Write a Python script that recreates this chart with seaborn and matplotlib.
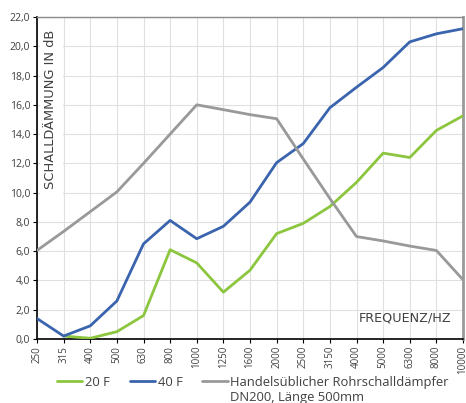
import numpy as np
import pandas as pd
import matplotlib
matplotlib.use("Agg")
import matplotlib.pyplot as plt
from matplotlib.lines import Line2D
from matplotlib.patches import Rectangle
import seaborn as sns

freqs = ["250", "315", "400", "500", "630", "800", "1000", "1250", "1600",
         "2000", "2500", "3150", "4000", "5000", "6300", "8000", "10000"]
f20 = [np.nan, 0.2, 0.05, 0.5, 1.6, 6.1, 5.2, 3.2, 4.7, 7.2, 7.9, 9.05,
       10.7, 12.7, 12.4, 14.25, 15.25]
f40 = [1.4, 0.2, 0.9, 2.6, 6.5, 8.1, 6.85, 7.7, 9.35, 12.05, 13.35, 15.8,
       17.2, 18.55, 20.3, 20.85, 21.2]
handel = [6.05, 7.35, 8.7, 10.05, 12.0, 14.0, 16.0, 15.67, 15.33, 15.05,
          12.3, 9.6, 7.0, 6.7, 6.35, 6.05, 4.05]
series_names = ["20 F", "40 F", "Handelsüblicher Rohrschalldämpfer"]
extra_line = "DN200, Länge 500mm"
colors = ["#8cc63e", "#3a64ad", "#999999"]

sns.set_style("white")
plt.rcParams['font.family'] = ['Open Sans', 'DejaVu Sans']

df = pd.DataFrame({
    "pos": list(range(len(freqs))) * 3,
    "val": f20 + f40 + handel,
    "series": [series_names[0]] * len(freqs) + [series_names[1]] * len(freqs) + [series_names[2]] * len(freqs),
})

fig = plt.figure(figsize=(4.66, 4.03), dpi=100)
ax = fig.add_axes([37 / 466, 1 - 339 / 403, (463 - 37) / 466, (339 - 17) / 403])

sns.lineplot(data=df, x="pos", y="val", hue="series", palette=colors,
             hue_order=series_names, linewidth=2.0, ax=ax, legend=False, sort=False)
for ln in ax.get_lines():
    ln.set_zorder(3)

ax.set_xlim(0, len(freqs) - 1)
ax.set_ylim(0, 22)
ax.set_xticks(range(len(freqs)))
ax.set_xticklabels(freqs, rotation=90, fontsize=7, color="#404040")
yt = np.arange(0, 22.1, 2)
ax.set_yticks(yt)
ax.set_yticklabels([f"{v:.1f}".replace(".", ",") for v in yt], fontsize=7.5, color="#404040")
ax.tick_params(axis="both", length=3, width=0.8, color="#000000", pad=2)
ax.tick_params(axis="x", bottom=True)
ax.tick_params(axis="y", left=True)
ax.grid(True, color="#e0e0e0", linewidth=0.8)
ax.set_axisbelow(True)
ax.set_xlabel("")
ax.set_ylabel("")

for s in ["left", "bottom"]:
    ax.spines[s].set_color("#000000")
    ax.spines[s].set_linewidth(1.2)
ax.spines["top"].set_color("#8a8a8a")
ax.spines["top"].set_linewidth(1.0)
ax.spines["right"].set_color("#9a9a9a")
ax.spines["right"].set_linewidth(2.0)

ax.add_patch(Rectangle((0.006, 0.44), 0.056, 0.55, transform=ax.transAxes,
                       facecolor="white", edgecolor="none", zorder=1))
ax.text(0.031, 0.96, "SCHALLDÄMMUNG IN dB", transform=ax.transAxes, rotation=90,
        ha="center", va="top", fontsize=9.4, color="#404040", family="DejaVu Sans", zorder=2)
ax.text(0.974, 0.064, "FREQUENZ/HZ", transform=ax.transAxes, ha="right", va="center",
        fontsize=9.2, color="#404040", family="DejaVu Sans")

handles = [Line2D([0], [0], color=c, linewidth=2.0) for c in colors]
leg = fig.legend(handles, series_names, loc="upper left", bbox_to_anchor=(57 / 466, 1 - 376 / 403),
                 ncol=3, frameon=False, fontsize=9.4, handlelength=1.95, handletextpad=0.2,
                 columnspacing=1.5, labelcolor="#404040", borderpad=0, borderaxespad=0)

fig.canvas.draw()
r = fig.canvas.get_renderer()
bb = leg.get_texts()[2].get_window_extent(r)
x0, y0 = fig.transFigure.inverted().transform((bb.x0, bb.y0))
fig.text(x0, y0 - 2 / 403, extra_line, ha="left", va="top", fontsize=9.4, color="#404040")

fig.savefig("out.png", dpi=100)
